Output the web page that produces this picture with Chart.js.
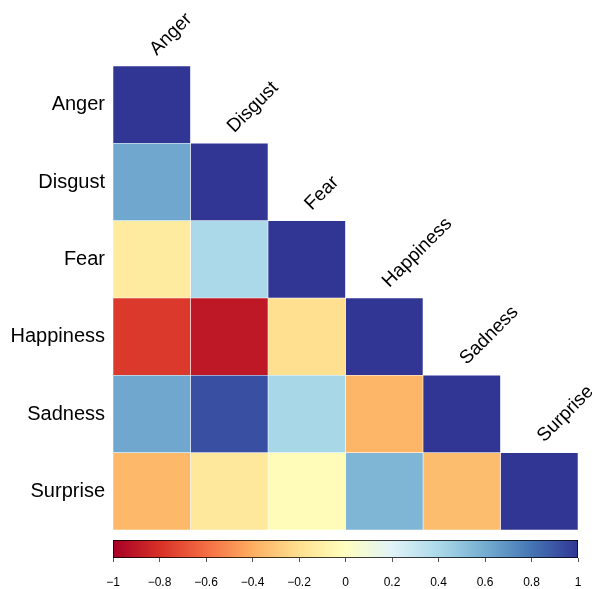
<!DOCTYPE html>
<html>
<head>
<meta charset="utf-8">
<script src="https://cdn.jsdelivr.net/npm/chart.js@4.4.0/dist/chart.umd.min.js"></script>
<style>
  html, body { margin: 0; padding: 0; background: #fff; }
  #wrap { position: relative; width: 595px; height: 589px; }
  #wrap canvas { position: absolute; left: 0; top: 0; }
</style>
</head>
<body>
<div id="wrap">
  <canvas id="corrChart" width="595" height="589"></canvas>
  <canvas id="scaleChart" width="595" height="589"></canvas>
</div>
<script>
const emotions = ['Anger', 'Disgust', 'Fear', 'Happiness', 'Sadness', 'Surprise'];

// lower triangle of the correlation matrix, one array per row
const angerRow     = [1];
const disgustRow   = [0.62, 1];
const fearRow      = [-0.13, 0.40, 1];
const happinessRow = [-0.77, -0.90, -0.20, 1];
const sadnessRow   = [0.62, 0.92, 0.41, -0.37, 1];
const surpriseRow  = [-0.36, -0.15, -0.02, 0.56, -0.34, 1];
const rows = [angerRow, disgustRow, fearRow, happinessRow, sadnessRow, surpriseRow];

const scaleRange = [-1, 1];
const scaleTicks = [-1, -0.8, -0.6, -0.4, -0.2, 0, 0.2, 0.4, 0.6, 0.8, 1];

// RdYlBu, from -1 to 1
const palette = ['#A50026', '#D73027', '#F46D43', '#FDAE61', '#FEE090', '#FFFFBF',
                 '#E0F3F8', '#ABD9E9', '#74ADD1', '#4575B4', '#313695'];

const FONT = '"Liberation Sans", Arial, Helvetica, sans-serif';

function hexToRgb(h) {
  return [parseInt(h.slice(1, 3), 16), parseInt(h.slice(3, 5), 16), parseInt(h.slice(5, 7), 16)];
}

function colorFor(v) {
  const pos = (v + 1) / 2 * (palette.length - 1);
  const i = Math.min(Math.floor(pos), palette.length - 2);
  const t = pos - i;
  const a = hexToRgb(palette[i]), b = hexToRgb(palette[i + 1]);
  const c = a.map((k, j) => Math.round(k + (b[j] - k) * t));
  return 'rgb(' + c.join(',') + ')';
}

// one dataset per column, bars overlap in each row slot
const datasets = emotions.map((col, c) => ({
  label: col,
  data: emotions.map((_, r) => r >= c ? [c, c + 1] : null),
  backgroundColor: emotions.map((_, r) => r >= c ? colorFor(rows[r][c]) : 'transparent'),
  borderColor: 'rgba(255,255,255,0.55)',
  borderWidth: 0.6,
  borderSkipped: false,
  grouped: false,
  barPercentage: 1,
  categoryPercentage: 1
}));

// column names written diagonally above the diagonal cells
const topLabels = {
  id: 'topLabels',
  afterDraw(chart) {
    const { ctx, scales: { x, y } } = chart;
    const h = y.getPixelForValue(1) - y.getPixelForValue(0);
    ctx.save();
    ctx.font = '19px ' + FONT;
    ctx.fillStyle = '#000';
    ctx.textAlign = 'left';
    ctx.textBaseline = 'alphabetic';
    emotions.forEach((name, i) => {
      const cx = x.getPixelForValue(i + 0.5);
      const top = y.getPixelForValue(i) - h / 2;
      ctx.save();
      ctx.translate(cx + 5, top - 10);
      ctx.rotate(-Math.PI / 4);
      ctx.fillText(name, 0, 0);
      ctx.restore();
    });
    ctx.restore();
  }
};

new Chart(document.getElementById('corrChart'), {
  type: 'bar',
  data: { labels: emotions, datasets: datasets },
  options: {
    indexAxis: 'y',
    responsive: false,
    animation: false,
    layout: { padding: { left: 0, right: 17, top: 66, bottom: 59 } },
    plugins: { legend: { display: false }, tooltip: { enabled: false } },
    scales: {
      x: { type: 'linear', min: 0, max: 6, display: false },
      y: {
        type: 'category',
        grid: { display: false },
        border: { display: false },
        ticks: { color: '#000', font: { family: FONT, size: 20 }, padding: 0 },
        afterFit(axis) { axis.width = 113; }
      }
    }
  },
  plugins: [topLabels]
});

new Chart(document.getElementById('scaleChart'), {
  type: 'bar',
  data: {
    labels: ['scale'],
    datasets: [{
      data: [scaleRange],
      backgroundColor(ctx) {
        const area = ctx.chart.chartArea;
        if (!area) return null;
        const g = ctx.chart.ctx.createLinearGradient(area.left, 0, area.right, 0);
        palette.forEach((c, i) => g.addColorStop(i / (palette.length - 1), c));
        return g;
      },
      borderColor: '#000',
      borderWidth: 1,
      borderSkipped: false,
      barPercentage: 1,
      categoryPercentage: 1
    }]
  },
  options: {
    indexAxis: 'y',
    responsive: false,
    animation: false,
    layout: { padding: { left: 113, right: 17, top: 540, bottom: 0 } },
    plugins: { legend: { display: false }, tooltip: { enabled: false } },
    scales: {
      y: { display: false },
      x: {
        type: 'linear',
        min: scaleRange[0],
        max: scaleRange[1],
        afterBuildTicks(axis) { axis.ticks = scaleTicks.map(v => ({ value: v })); },
        afterFit(axis) { axis.height = 31; },
        grid: { drawOnChartArea: false, drawTicks: true, tickLength: 4, color: '#555' },
        border: { display: false },
        ticks: {
          color: '#000',
          font: { family: FONT, size: 12 },
          padding: 13,
          maxRotation: 0,
          autoSkip: false,
          callback(v) {
            const r = Math.round(v * 10) / 10;
            return r < 0 ? '\u2212' + String(-r) : String(r);
          }
        }
      }
    }
  }
});
</script>
</body>
</html>
